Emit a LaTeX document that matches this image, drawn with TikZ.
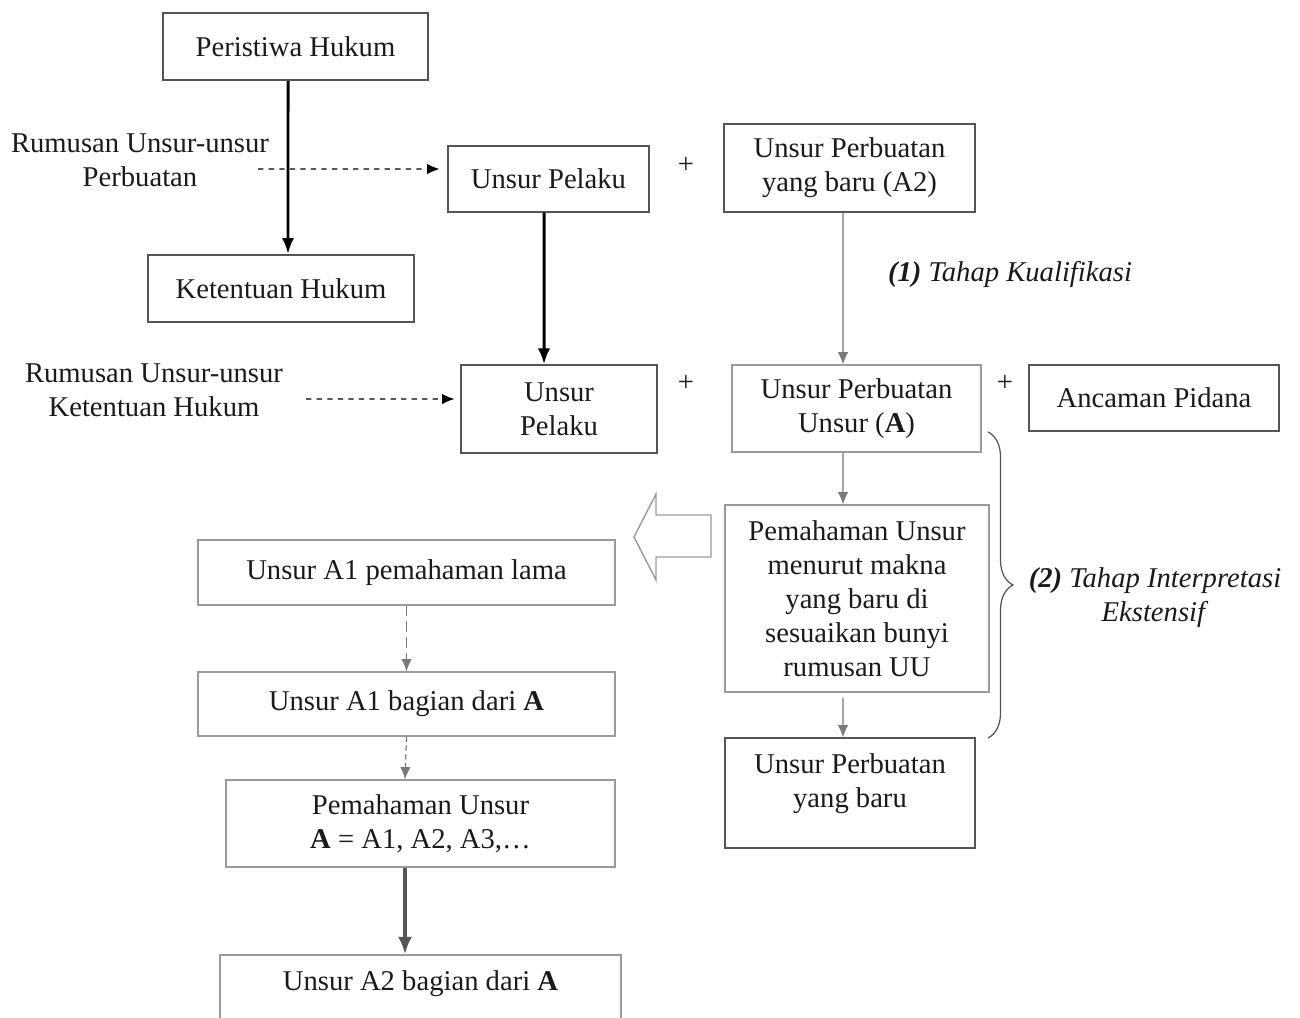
\documentclass[tikz,border=0pt]{standalone}
\usepackage{fontspec}
\setmainfont{Liberation Serif}
\usepackage{tikz}
\usetikzlibrary{decorations.pathreplacing,arrows.meta}
\definecolor{ink}{HTML}{1A1A1A}
\definecolor{darkline}{HTML}{555555}
\definecolor{lightline}{HTML}{9A9A9A}
\definecolor{greyarrow}{HTML}{7A7A7A}
\tikzset{
    darkbox/.style={draw=darkline, line width=0.8pt, align=center, text=ink},
    heavybox/.style={draw=darkline, line width=1.3pt, align=center, text=ink},
    lightbox/.style={draw=lightline, line width=0.7pt, align=center, text=ink},
    plaintext/.style={align=center, text=ink},
    bigarrow/.style={-{Latex[length=9pt, width=7pt]}, line width=1.7pt, black},
    greyline/.style={->, line width=0.7pt, greyarrow},
    dasharrow/.style={->, dashed, line width=0.7pt, black},
}

\begin{document}
\begin{tikzpicture}[x=0.02cm, y=-0.02cm, >={Latex[length=7pt, width=6pt]}, font=\fontsize{16.3}{19.4}\selectfont]
        \useasboundingbox (0, 0) rectangle (1300, 1017);
        %draw boxes of the left column
        \node[heavybox, minimum width=5.3cm, minimum height=1.34cm] (peristiwa) at (295.5, 46.5) {Peristiwa Hukum};
        \node[heavybox, minimum width=5.32cm, minimum height=1.34cm] (ketentuan) at (281, 288.5) {Ketentuan Hukum};
        \node[plaintext] (rumusanA) at (140, 160) {Rumusan Unsur-unsur\\Perbuatan};
        \node[plaintext] (rumusanB) at (154, 390) {Rumusan Unsur-unsur\\Ketentuan Hukum};
        %draw boxes of the middle
        \node[darkbox, minimum width=4.02cm, minimum height=1.32cm] (pelakuA) at (548.5, 179) {Unsur Pelaku};
        \node[darkbox, minimum width=3.92cm, minimum height=1.76cm] (pelakuB) at (559, 409) {Unsur\\Pelaku};
        \node[darkbox, minimum width=5.02cm, minimum height=1.76cm] (baruA2) at (849.5, 168) {Unsur Perbuatan\\yang baru (A2)};
        \node[lightbox, minimum width=4.98cm, minimum height=1.74cm] (unsurA) at (856.5, 408.5) {Unsur Perbuatan\\Unsur (\textbf{A})};
        \node[darkbox, minimum width=5cm, minimum height=1.32cm] (ancaman) at (1154, 398) {Ancaman Pidana};
        \node[lightbox, minimum width=5.28cm, minimum height=3.74cm] (maknabaru) at (857, 598.5) {Pemahaman Unsur\\menurut makna\\yang baru di\\sesuaikan bunyi\\rumusan UU};
        \node[darkbox, minimum width=5cm, minimum height=2.2cm,
            label={[plaintext, anchor=north, yshift=-0.2cm]north:Unsur Perbuatan\\yang baru}] (perbuatanbaru) at (850, 793) {};
        %plus signs
        \node[plaintext] (plusA) at (686, 165) {+};
        \node[plaintext] (plusB) at (686, 383) {+};
        \node[plaintext] (plusC) at (1005, 383) {+};
        %draw boxes of the lower left
        \node[lightbox, minimum width=8.34cm, minimum height=1.3cm] (a1lama) at (406.5, 572.5) {Unsur A1 pemahaman lama};
        \node[lightbox, minimum width=8.34cm, minimum height=1.28cm] (a1bagian) at (406.5, 704) {Unsur A1 bagian dari \textbf{A}};
        \node[lightbox, minimum width=7.78cm, minimum height=1.74cm] (pemahamanA) at (420.5, 823.5) {Pemahaman Unsur\\\textbf{A} = A1, A2, A3,\dots};
        \node[lightbox, minimum width=8.02cm, minimum height=2cm,
            label={[plaintext, anchor=north, yshift=-0.2cm]north:Unsur A2 bagian dari \textbf{A}}] (a2bagian) at (420.5, 1005) {};
        %label stages
        \node[plaintext] (kualifikasi) at (1010, 274) {\textit{\textbf{(1)} Tahap Kualifikasi}};
        \node[plaintext] (interpretasi) at (1155, 598) {\textit{\textbf{(2)} Tahap Interpretasi}\\\textit{Ekstensif}};
        %draw arrows
        \draw[bigarrow] ([xshift=-0.15cm]peristiwa.south) -- ([xshift=0.14cm]ketentuan.north);
        \draw[bigarrow] ([xshift=-0.09cm]pelakuA.south) -- ([xshift=-0.3cm]pelakuB.north);
        \draw[dasharrow] ([xshift=-0.34cm, yshift=-0.18cm]rumusanA.east) -- ([xshift=-0.16cm, yshift=0.2cm]pelakuA.west);
        \draw[dasharrow] ([xshift=0.34cm, yshift=-0.18cm]rumusanB.east) -- ([xshift=-0.12cm, yshift=0.2cm]pelakuB.west);
        \draw[greyline] ([xshift=-0.13cm]baruA2.south) -- ([xshift=-0.27cm]unsurA.north);
        \draw[greyline] ([xshift=-0.27cm]unsurA.south) -- ([xshift=-0.28cm]maknabaru.north);
        \draw[greyline] ([xshift=-0.28cm, yshift=-0.1cm]maknabaru.south) -- ([xshift=-0.14cm]perbuatanbaru.north);
        \draw[greyline, dash pattern=on 6pt off 3pt] (a1lama.south) -- (a1bagian.north);
        \draw[greyline, dash pattern=on 3pt off 2pt] (a1bagian.south) -- ([xshift=-0.31cm]pemahamanA.north);
        \draw[-{Latex[length=10pt, width=8pt]}, line width=2.2pt, darkline] ([xshift=-0.31cm]pemahamanA.south) -- ([xshift=-0.31cm]a2bagian.north);
        %draw hollow arrow and brace
        \draw[lightline, line width=0.8pt, fill=white] (711, 515) -- (656, 515) -- (656, 494) -- (634, 537) -- (656, 580) -- (656, 557) -- (711, 557) -- cycle;
        \draw[darkline, line width=0.7pt, decorate, decoration={brace, amplitude=0.5cm}] (988, 432) -- (988, 738);
    \end{tikzpicture}
\end{document}
